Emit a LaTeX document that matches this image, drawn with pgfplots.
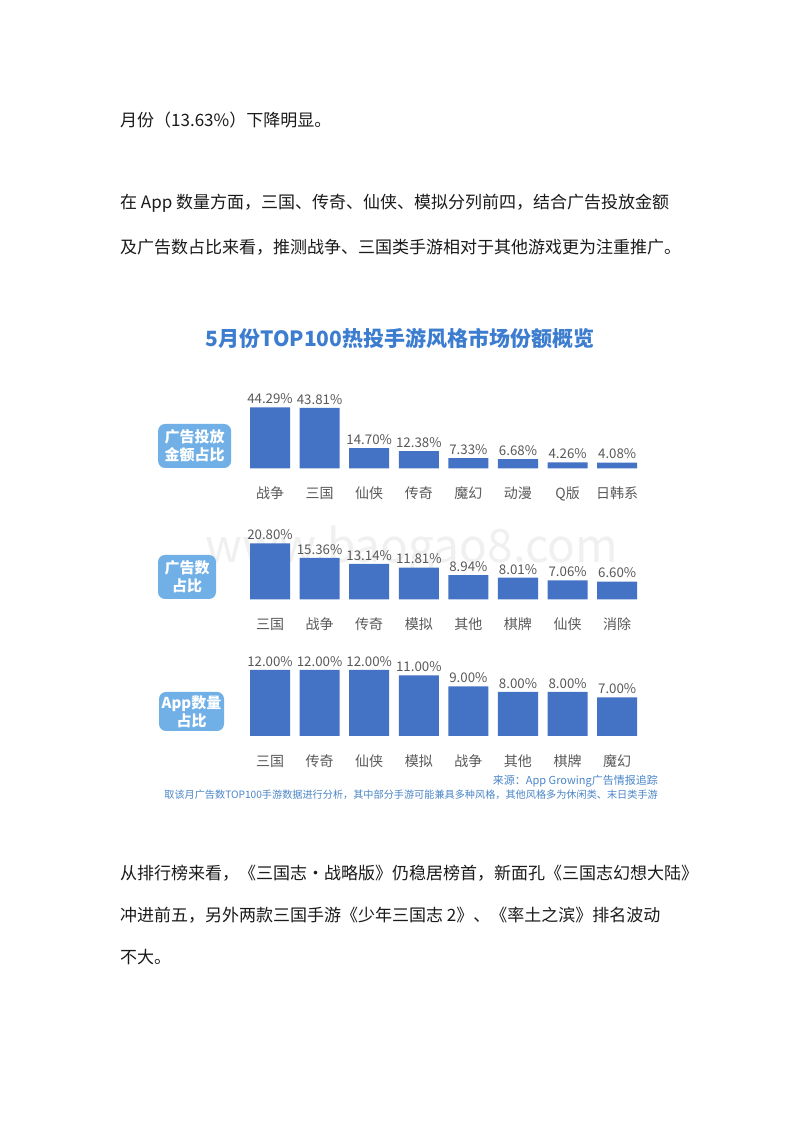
\documentclass[border=0pt]{standalone}
\usepackage{fontspec}
\setmainfont{Noto Sans CJK SC}
\usepackage{pgfplots}
\pgfplotsset{compat=1.18}

\definecolor{barblue}{HTML}{4472C4}
\definecolor{titleblue}{HTML}{3D7DD0}
\definecolor{tagblue}{HTML}{70B0E6}
\definecolor{txtgray}{HTML}{595959}
\definecolor{srcblue}{HTML}{4A86C8}
\definecolor{bodytxt}{HTML}{1A1A1A}

\pgfplotsset{
  panel/.style={
    scale only axis,
    width=396.8pt, height=80pt,
    xmin=-0.5, xmax=7.5, ymin=0,
    axis line style={draw=none},
    major tick style={draw=none},
    ytick=\empty,
    xtick={0,...,7},
    ybar, bar width=40pt,
    clip=false,
    xticklabel style={font=\fontsize{14}{14}\selectfont, text=txtgray, anchor=center, yshift=-21pt},
    nodes near coords,
    point meta=explicit symbolic,
    every node near coord/.append style={font=\fontsize{13.3}{13.3}\selectfont, text=txtgray, inner xsep=0pt},
  }
}

\begin{document}
\begin{tikzpicture}[x=1pt,y=1pt]
\fill[white] (0,0) rectangle (800,1132);
\useasboundingbox (0,0) rectangle (800,1132);

% body text above and below the chart
\begin{scope}[every node/.style={anchor=west, text=bodytxt, font=\fontsize{17}{17}\selectfont, inner sep=0pt}]
\node at (120,1012) {月份（13.63\%）下降明显。};
\node at (120,929) {在 App 数量方面，三国、传奇、仙侠、模拟分列前四，结合广告投放金额};
\node at (120,885) {及广告数占比来看，推测战争、三国类手游相对于其他游戏更为注重推广。};
\node at (120,259) {从排行榜来看，《三国志·战略版》仍稳居榜首，新面孔《三国志幻想大陆》};
\node at (120,217) {冲进前五，另外两款三国手游《少年三国志 2》、《率土之滨》排名波动};
\node at (120,175) {不大。};
\end{scope}

% title
\node[text=titleblue, font=\bfseries\fontsize{21}{21}\selectfont] at (400,794) {5月份TOP100热投手游风格市场份额概览};

% watermark
\node[text=black!6, font=\fontsize{46}{46}\selectfont] at (412,582) {www.baogao8.com};

% side tags
\begin{scope}[every node/.style={fill=tagblue, rounded corners=7pt, align=center, text=white, inner sep=0pt, font=\bfseries\fontsize{15}{18}\selectfont}]
\node[minimum width=73pt, minimum height=44pt] at (194.6,686) {广告投放\\金额占比};
\node[minimum width=58pt, minimum height=44pt] at (187,555) {广告数\\占比};
\node[minimum width=65pt, minimum height=39pt] at (191.5,420.5) {App数量\\占比};
\end{scope}

% panel 1: ad spend share
\begin{axis}[panel, at={(245.2pt,663.7pt)}, anchor=south west, ymax=58.1,
  xticklabels={战争,三国,仙侠,传奇,魔幻,动漫,Q版,日韩系}]
\addplot[fill=barblue, draw=none] coordinates {
  (0,44.29) [44.29\%] (1,43.81) [43.81\%] (2,14.70) [14.70\%] (3,12.38) [12.38\%]
  (4,7.33) [7.33\%] (5,6.68) [6.68\%] (6,4.26) [4.26\%] (7,4.08) [4.08\%]
};
\end{axis}

% panel 2: ad count share
\begin{axis}[panel, at={(245.2pt,532.7pt)}, anchor=south west, ymax=29.72,
  xticklabels={三国,战争,传奇,模拟,其他,棋牌,仙侠,消除}]
\addplot[fill=barblue, draw=none] coordinates {
  (0,20.80) [20.80\%] (1,15.36) [15.36\%] (2,13.14) [13.14\%] (3,11.81) [11.81\%]
  (4,8.94) [8.94\%] (5,8.01) [8.01\%] (6,7.06) [7.06\%] (7,6.60) [6.60\%]
};
\end{axis}

% panel 3: app count share
\begin{axis}[panel, at={(245.2pt,396pt)}, anchor=south west, ymax=14.545,
  xticklabels={三国,传奇,仙侠,模拟,战争,其他,棋牌,魔幻}]
\addplot[fill=barblue, draw=none] coordinates {
  (0,12.00) [12.00\%] (1,12.00) [12.00\%] (2,12.00) [12.00\%] (3,11.00) [11.00\%]
  (4,9.00) [9.00\%] (5,8.00) [8.00\%] (6,8.00) [8.00\%] (7,7.00) [7.00\%]
};
\end{axis}

% source notes
\node[anchor=east, text=srcblue, font=\fontsize{11}{11}\selectfont, inner sep=0pt] at (658,350.5) {来源：App Growing广告情报追踪};
\node[anchor=east, text=srcblue, font=\fontsize{10.15}{10.15}\selectfont, inner sep=0pt] at (658,337.5) {取该月广告数TOP100手游数据进行分析，其中部分手游可能兼具多种风格，其他风格多为休闲类、末日类手游};
\end{tikzpicture}
\end{document}
